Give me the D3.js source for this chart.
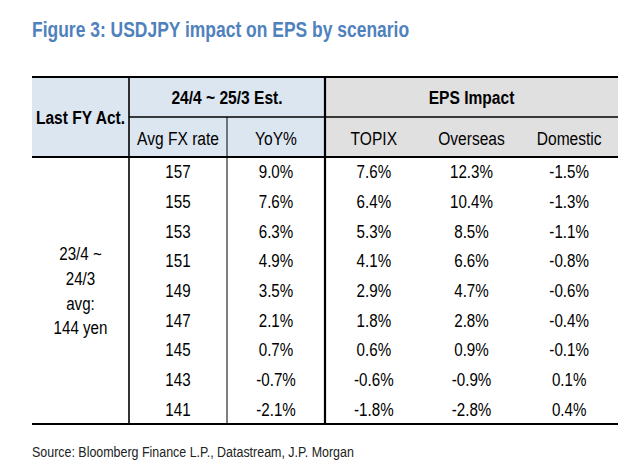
<!DOCTYPE html>
<html>
<head>
<meta charset="utf-8">
<script src="https://cdn.jsdelivr.net/npm/d3@7"></script>
<style>
  body { margin: 0; background: #fff; }
  text { font-family: "Liberation Sans Narrow", "Arial Narrow", "Liberation Sans", Arial, sans-serif; }
</style>
</head>
<body>
<div id="table"></div>
<script>
// data
var fxRates  = [157, 155, 153, 151, 149, 147, 145, 143, 141];
var yoy      = ["9.0%", "7.6%", "6.3%", "4.9%", "3.5%", "2.1%", "0.7%", "-0.7%", "-2.1%"];
var topix    = ["7.6%", "6.4%", "5.3%", "4.1%", "2.9%", "1.8%", "0.6%", "-0.6%", "-1.8%"];
var overseas = ["12.3%", "10.4%", "8.5%", "6.6%", "4.7%", "2.8%", "0.9%", "-0.9%", "-2.8%"];
var domestic = ["-1.5%", "-1.3%", "-1.1%", "-0.8%", "-0.6%", "-0.4%", "-0.1%", "0.1%", "0.4%"];
var estCols  = ["Avg FX rate", "YoY%"];
var epsCols  = ["TOPIX", "Overseas", "Domestic"];
var lastFY   = ["23/4 ~", "24/3", "avg:", "144 yen"];

var width = 640, height = 474;
var x0 = 32, xA = 129, xE = 325, x1 = 618;   // column boundaries
var yTop = 77, yMid = 117, yHead = 157, yBot = 424;
var sx = 0.82;   // narrow look, no Arial Narrow here

var svg = d3.select("#table").append("svg")
    .attr("width", width)
    .attr("height", height);

// text squeezed horizontally round its anchor
function put(g, x, y) {
    return g.append("text")
        .attr("transform", "translate(" + x + "," + y + ") scale(" + sx + ",1)");
}

// title
put(svg, 32, 37)
    .attr("font-size", 21.3).attr("font-weight", "bold")
    .attr("fill", "#4f81bd")
    .text("Figure 3: USDJPY impact on EPS by scenario");

// scales
var y = d3.scaleBand().domain(fxRates).range([yHead, yBot]);
var xEst = d3.scaleBand().domain(estCols).range([xA, xE]);
var xEps = d3.scaleBand().domain(epsCols).range([xE, x1]);

// header fills
svg.append("rect").attr("x", x0).attr("y", yTop)
    .attr("width", xE - x0).attr("height", yHead - yTop).attr("fill", "#dce6f1");
svg.append("rect").attr("x", xE).attr("y", yTop)
    .attr("width", x1 - xE).attr("height", yHead - yTop).attr("fill", "#e0e0e1");

// header text
var head = svg.append("g").attr("font-size", 19).attr("fill", "#000").attr("text-anchor", "middle");
put(head, (x0 + xA) / 2, (yTop + yHead) / 2).attr("dy", "0.36em")
    .attr("font-weight", "bold").text("Last FY Act.");
put(head, (xA + xE) / 2, (yTop + yMid) / 2).attr("dy", "0.36em")
    .attr("font-weight", "bold").text("24/4 ~ 25/3 Est.");
put(head, (xE + x1) / 2, (yTop + yMid) / 2).attr("dy", "0.36em")
    .attr("font-weight", "bold").text("EPS Impact");

estCols.forEach(function (d) {
    put(head, xEst(d) + xEst.bandwidth() / 2, (yMid + yHead) / 2).attr("dy", "0.42em").text(d);
});
epsCols.forEach(function (d) {
    put(head, xEps(d) + xEps.bandwidth() / 2, (yMid + yHead) / 2).attr("dy", "0.42em").text(d);
});

// body
var body = svg.append("g").attr("font-size", 18.5).attr("fill", "#000").attr("text-anchor", "middle");

var colData = [
    { x: xEst(estCols[0]) + xEst.bandwidth() / 2, vals: fxRates },
    { x: xEst(estCols[1]) + xEst.bandwidth() / 2, vals: yoy },
    { x: xEps(epsCols[0]) + xEps.bandwidth() / 2, vals: topix },
    { x: xEps(epsCols[1]) + xEps.bandwidth() / 2, vals: overseas },
    { x: xEps(epsCols[2]) + xEps.bandwidth() / 2, vals: domestic }
];
colData.forEach(function (c) {
    body.selectAll(null).data(fxRates).enter().append("text")
        .attr("transform", function (d) {
            return "translate(" + c.x + "," + (y(d) + y.bandwidth() / 2) + ") scale(" + sx + ",1)";
        })
        .attr("dy", "0.36em")
        .text(function (d, i) { return c.vals[i]; });
});

// last FY block
var lh = 24.7, yc = (yHead + yBot) / 2;
lastFY.forEach(function (d, i) {
    put(body, (x0 + xA) / 2, yc + (i - (lastFY.length - 1) / 2) * lh).attr("dy", "0.36em").text(d);
});

// rules
function line(xa, ya, xb, yb, w) {
    svg.append("line").attr("x1", xa).attr("y1", ya).attr("x2", xb).attr("y2", yb)
        .attr("stroke", "#000").attr("stroke-width", w);
}
line(x0, yTop, x1, yTop, 2);
line(xA, yMid, x1, yMid, 1.6);
line(x0, yHead, x1, yHead, 2.2);
line(x0, yBot, x1, yBot, 2);
line(xA, yTop, xA, yBot, 1.6);
line(xEst(estCols[1]), yMid, xEst(estCols[1]), yBot, 1);
line(xE, yTop, xE, yBot, 2.2);

// source
put(svg, 32, 457)
    .attr("font-size", 15.2).attr("fill", "#222")
    .text("Source: Bloomberg Finance L.P., Datastream, J.P. Morgan");
</script>
</body>
</html>
